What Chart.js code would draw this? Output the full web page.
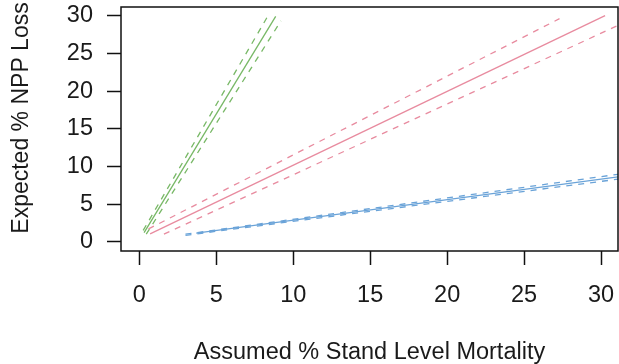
<!DOCTYPE html>
<html>
<head>
<meta charset="utf-8">
<script src="https://cdn.jsdelivr.net/npm/chart.js@4/dist/chart.umd.min.js"></script>
<style>
  html, body { margin: 0; padding: 0; background: #fff; }
  #wrap { width: 619px; height: 364px; position: relative; }
</style>
</head>
<body>
<div id="wrap"><canvas id="c"></canvas></div>
<script>
// Axis ticks
const xTicks = [0, 5, 10, 15, 20, 25, 30];
const yTicks = [0, 5, 10, 15, 20, 25, 30];
const yTitle = 'Expected % NPP Loss';
const xTitle = 'Assumed % Stand Level Mortality';

// Fitted relationships (solid) and their bounds (dashed), as line end points
const greenFitX   = [0.31, 8.86];  const greenFitY   = [1.2, 29.9];
const greenUpperX = [0.25, 8.45];  const greenUpperY = [1.5, 30.3];
const greenLowerX = [0.45, 9.2];   const greenLowerY = [1.0, 29.3];

const pinkFitX    = [0.7, 30.26];  const pinkFitY    = [1.05, 30.0];
const pinkUpperX  = [0.6, 27.3];   const pinkUpperY  = [1.7, 29.6];
const pinkLowerX  = [1.6, 31.1];   const pinkLowerY  = [1.0, 28.7];

const blueFitX    = [3.7, 31.1];   const blueFitY    = [1.15, 8.6];
const blueUpperX  = [3.0, 31.1];   const blueUpperY  = [1.0, 8.95];
const blueLowerX  = [3.0, 31.1];   const blueLowerY  = [0.85, 8.3];

const GREEN = '#78b866';
const PINK  = '#e88b9f';
const BLUE  = '#6aa3d8';
const INK   = '#1a1a1a';
const FAMILY = '"Liberation Sans", Arial, sans-serif';

function pts(xs, ys) { return xs.map((x, i) => ({ x: x, y: ys[i] })); }
function line(xs, ys, color, dashed) {
  return {
    data: pts(xs, ys),
    showLine: true,
    borderColor: color,
    borderWidth: 1.3,
    borderDash: dashed ? [6, 6] : [],
    pointRadius: 0,
    fill: false
  };
}

// Frame around the plotting region, plus the rotated y-axis title
const frame = {
  id: 'frame',
  afterDatasetsDraw(chart) {
    const a = chart.chartArea, ctx = chart.ctx;
    ctx.save();
    ctx.strokeStyle = '#111';
    ctx.lineWidth = 1.5;
    ctx.strokeRect(a.left, a.top, a.right - a.left, a.bottom - a.top);
    ctx.translate(22, a.top + (a.bottom - a.top) / 2 - 11);
    ctx.rotate(-Math.PI / 2);
    ctx.fillStyle = INK;
    ctx.font = '23px ' + FAMILY;
    ctx.textAlign = 'center';
    ctx.textBaseline = 'middle';
    ctx.fillText(yTitle, 0, 0);
    ctx.restore();
  }
};

const font = { family: FAMILY, size: 23.5 };
const titleFont = { family: FAMILY, size: 23.5, lineHeight: 1.0 };

new Chart(document.getElementById('c'), {
  type: 'scatter',
  data: {
    datasets: [
      line(blueUpperX, blueUpperY, BLUE, true),
      line(blueLowerX, blueLowerY, BLUE, true),
      line(blueFitX, blueFitY, BLUE, false),
      line(pinkUpperX, pinkUpperY, PINK, true),
      line(pinkLowerX, pinkLowerY, PINK, true),
      line(pinkFitX, pinkFitY, PINK, false),
      line(greenUpperX, greenUpperY, GREEN, true),
      line(greenLowerX, greenLowerY, GREEN, true),
      line(greenFitX, greenFitY, GREEN, false)
    ]
  },
  options: {
    responsive: true,
    maintainAspectRatio: false,
    animation: false,
    layout: { padding: { top: 7, right: 1, left: 0, bottom: 0 } },
    plugins: { legend: { display: false }, tooltip: { enabled: false } },
    scales: {
      x: {
        type: 'linear',
        min: -1.19, max: 31.1,
        afterBuildTicks: s => { s.ticks = xTicks.map(v => ({ value: v })); },
        afterFit: s => { s.height = 113; s.paddingRight = 0; s.paddingLeft = 0; },
        grid: { drawOnChartArea: false, drawTicks: true, tickLength: 14, tickWidth: 1.5, tickColor: '#111' },
        border: { display: false },
        ticks: { color: INK, font: font, padding: 16, maxRotation: 0, autoSkip: false },
        title: { display: true, text: xTitle, color: INK, font: titleFont, padding: { top: 0, bottom: 0 } }
      },
      y: {
        type: 'linear',
        min: -1.23, max: 31.15,
        afterBuildTicks: s => { s.ticks = yTicks.map(v => ({ value: v })); },
        afterFit: s => { s.width = 121; s.paddingTop = 0; s.paddingBottom = 0; },
        grid: { drawOnChartArea: false, drawTicks: true, tickLength: 14, tickWidth: 1.5, tickColor: '#111' },
        border: { display: false },
        ticks: { color: INK, font: font, padding: 14, autoSkip: false }
      }
    }
  },
  plugins: [frame]
});
</script>
</body>
</html>
